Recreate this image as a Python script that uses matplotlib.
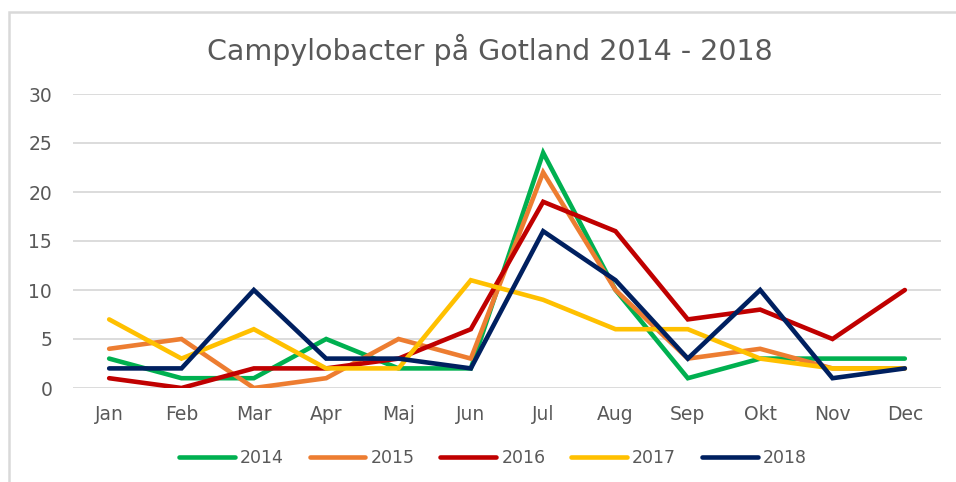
import matplotlib.pyplot as plt
from matplotlib.patches import Rectangle

months = ["Jan", "Feb", "Mar", "Apr", "Maj", "Jun", "Jul", "Aug", "Sep", "Okt", "Nov", "Dec"]
years = ["2014", "2015", "2016", "2017", "2018"]
y2014 = [3, 1, 1, 5, 2, 2, 24, 10, 1, 3, 3, 3]
y2015 = [4, 5, 0, 1, 5, 3, 22, 10, 3, 4, 2, 2]
y2016 = [1, 0, 2, 2, 3, 6, 19, 16, 7, 8, 5, 10]
y2017 = [7, 3, 6, 2, 2, 11, 9, 6, 6, 3, 2, 2]
y2018 = [2, 2, 10, 3, 3, 2, 16, 11, 3, 10, 1, 2]
colors = ["#00b050", "#ed7d31", "#c00000", "#ffc000", "#002060"]

plt.rcParams['font.family'] = ['DejaVu Sans']

fig = plt.figure(figsize=(9.56, 4.82), dpi=100)
ax = fig.add_axes([73 / 956, 1 - 388 / 482, (941 - 73) / 956, (388 - 94) / 482])

# chart frame
fig.patches.append(Rectangle((9 / 956, -0.1), 1.2, 1.1 - 12 / 482, transform=fig.transFigure,
                             fill=False, edgecolor="#d9d9d9", linewidth=1.8))

x = range(len(months))
for yr, vals, c in zip(years, [y2014, y2015, y2016, y2017, y2018], colors):
    ax.plot(x, vals, color=c, linewidth=3.3, label=yr, solid_capstyle="round", solid_joinstyle="miter")

ax.set_xlim(-0.5, len(months) - 0.5)
ax.set_ylim(0, 30)
ax.set_yticks(range(0, 31, 5))
ax.set_xticks(list(x))
ax.set_xticklabels(months)
ax.grid(axis="y", color="#d9d9d9", linewidth=1.3)
ax.set_axisbelow(True)
for s in ax.spines.values():
    s.set_visible(False)
ax.tick_params(length=0, labelsize=13.5, labelcolor="#595959")
ax.tick_params(axis="y", pad=15)
ax.tick_params(axis="x", pad=12)

fig.text(490 / 956, 1 - 50 / 482, "Campylobacter på Gotland 2014 - 2018", ha="center", va="center",
         fontsize=20.5, color="#595959")

fig.legend(loc="center", bbox_to_anchor=(493 / 956, 1 - 458 / 482), ncol=5, frameon=False,
           fontsize=12.5, labelcolor="#595959", handlelength=3.2, handletextpad=0.3, columnspacing=1.5)

fig.savefig("out.png", dpi=100)
